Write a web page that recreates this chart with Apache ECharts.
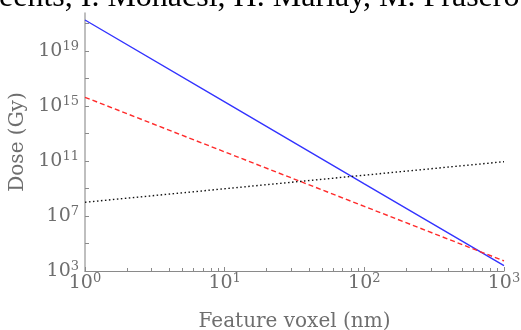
<!DOCTYPE html>
<html>
<head>
<meta charset="utf-8">
<script src="https://cdn.jsdelivr.net/npm/echarts@6/dist/echarts.min.js"></script>
<style>
html,body{margin:0;padding:0;background:#fff;}
#chart{width:521px;height:330px;}
</style>
</head>
<body>
<div id="chart"></div>
<script>
// Feature voxel size (nm)
var voxel = [1, 10, 100, 1000];
// Dose curves (Gy)
var doseBlue = [1.8e21, 2.0e15, 2.2e9, 2.45e3];
var doseRed = [4.3e15, 4.6e11, 5.0e7, 5.4e3];
var doseBlack = [1.0e8, 9.6e8, 9.3e9, 8.9e10];
// Tick positions
var xMajorTicks = [1, 10, 100, 1000];
var xMinorTicks = [2,3,4,5,6,7,8,9,20,30,40,50,60,70,80,90,200,300,400,500,600,700,800,900];
var yTicks = [1e3,1e5,1e7,1e9,1e11,1e13,1e15,1e17,1e19,1e21];
var yLabels = [1e3,1e7,1e11,1e15,1e19];
var captionText = 'eents, I. Mohacsi, H. Marlay, M. Frasero';

var serif = '"DejaVu Serif", serif';
function sup(v) {
  var e = Math.round(Math.log10(v));
  return '{b|10}{s|' + e + '}';
}
var rich = {
  b: {fontFamily: serif, fontSize: 19, color: '#6e6e6e'},
  s: {fontFamily: serif, fontSize: 13, color: '#6e6e6e', verticalAlign: 'top', padding: [0,0,9,0]}
};
function pairs(ys) { return voxel.map(function (x, i) { return [x, ys[i]]; }); }

var chart = echarts.init(document.getElementById('chart'), null, {renderer: 'canvas'});
chart.setOption({
  animation: false,
  backgroundColor: '#fff',
  grid: {left: 85, right: 17, top: 13, bottom: 59, containLabel: false, outerBoundsMode: 'none'},
  graphic: [{
    type: 'text', x: -1, y: 14,
    style: {text: captionText, font: '32px "Liberation Serif", serif', fill: '#000', verticalAlign: 'bottom'}
  }],
  xAxis: [{
    type: 'log', logBase: 10, min: 1, max: 1000,
    name: 'Feature voxel (nm)', nameLocation: 'middle', nameGap: 41,
    nameTextStyle: {fontFamily: serif, fontSize: 20, color: '#6e6e6e'},
    axisLine: {show: true, lineStyle: {color: '#8a8a8a', width: 1.2}},
    axisTick: {show: true, inside: true, length: 4, lineStyle: {color: '#8a8a8a'}, customValues: xMajorTicks},
    axisLabel: {show: true, customValues: xMajorTicks, margin: 1, formatter: sup, rich: rich},
    splitLine: {show: false}, minorTick: {show: false}
  }, {
    type: 'log', logBase: 10, min: 1, max: 1000, position: 'bottom',
    axisLine: {show: false},
    axisTick: {show: true, inside: true, length: 3, lineStyle: {color: '#8a8a8a'}, customValues: xMinorTicks},
    axisLabel: {show: false},
    splitLine: {show: false}
  }],
  yAxis: [{
    type: 'log', logBase: 10, min: 1e3, max: 5.8e21,
    name: 'Dose (Gy)', nameLocation: 'middle', nameGap: 51,
    nameTextStyle: {fontFamily: serif, fontSize: 20, color: '#6e6e6e'},
    axisLine: {show: true, lineStyle: {color: '#aaaaaa', width: 1.5}},
    axisTick: {show: true, inside: true, length: 4, lineStyle: {color: '#8a8a8a'}, customValues: yTicks},
    axisLabel: {show: true, customValues: yLabels, margin: 6, formatter: sup, rich: rich},
    splitLine: {show: false}
  }],
  series: [{
    type: 'line', data: pairs(doseBlue), showSymbol: false, symbol: 'none',
    lineStyle: {color: '#3333ff', width: 1.4, type: 'solid'}
  }, {
    type: 'line', data: pairs(doseRed), showSymbol: false, symbol: 'none',
    lineStyle: {color: '#ff2a2a', width: 1.4, type: [5, 3]}
  }, {
    type: 'line', data: pairs(doseBlack), showSymbol: false, symbol: 'none',
    lineStyle: {color: '#111111', width: 1.4, type: [1.5, 2.5]}
  }]
});
</script>
</body>
</html>
